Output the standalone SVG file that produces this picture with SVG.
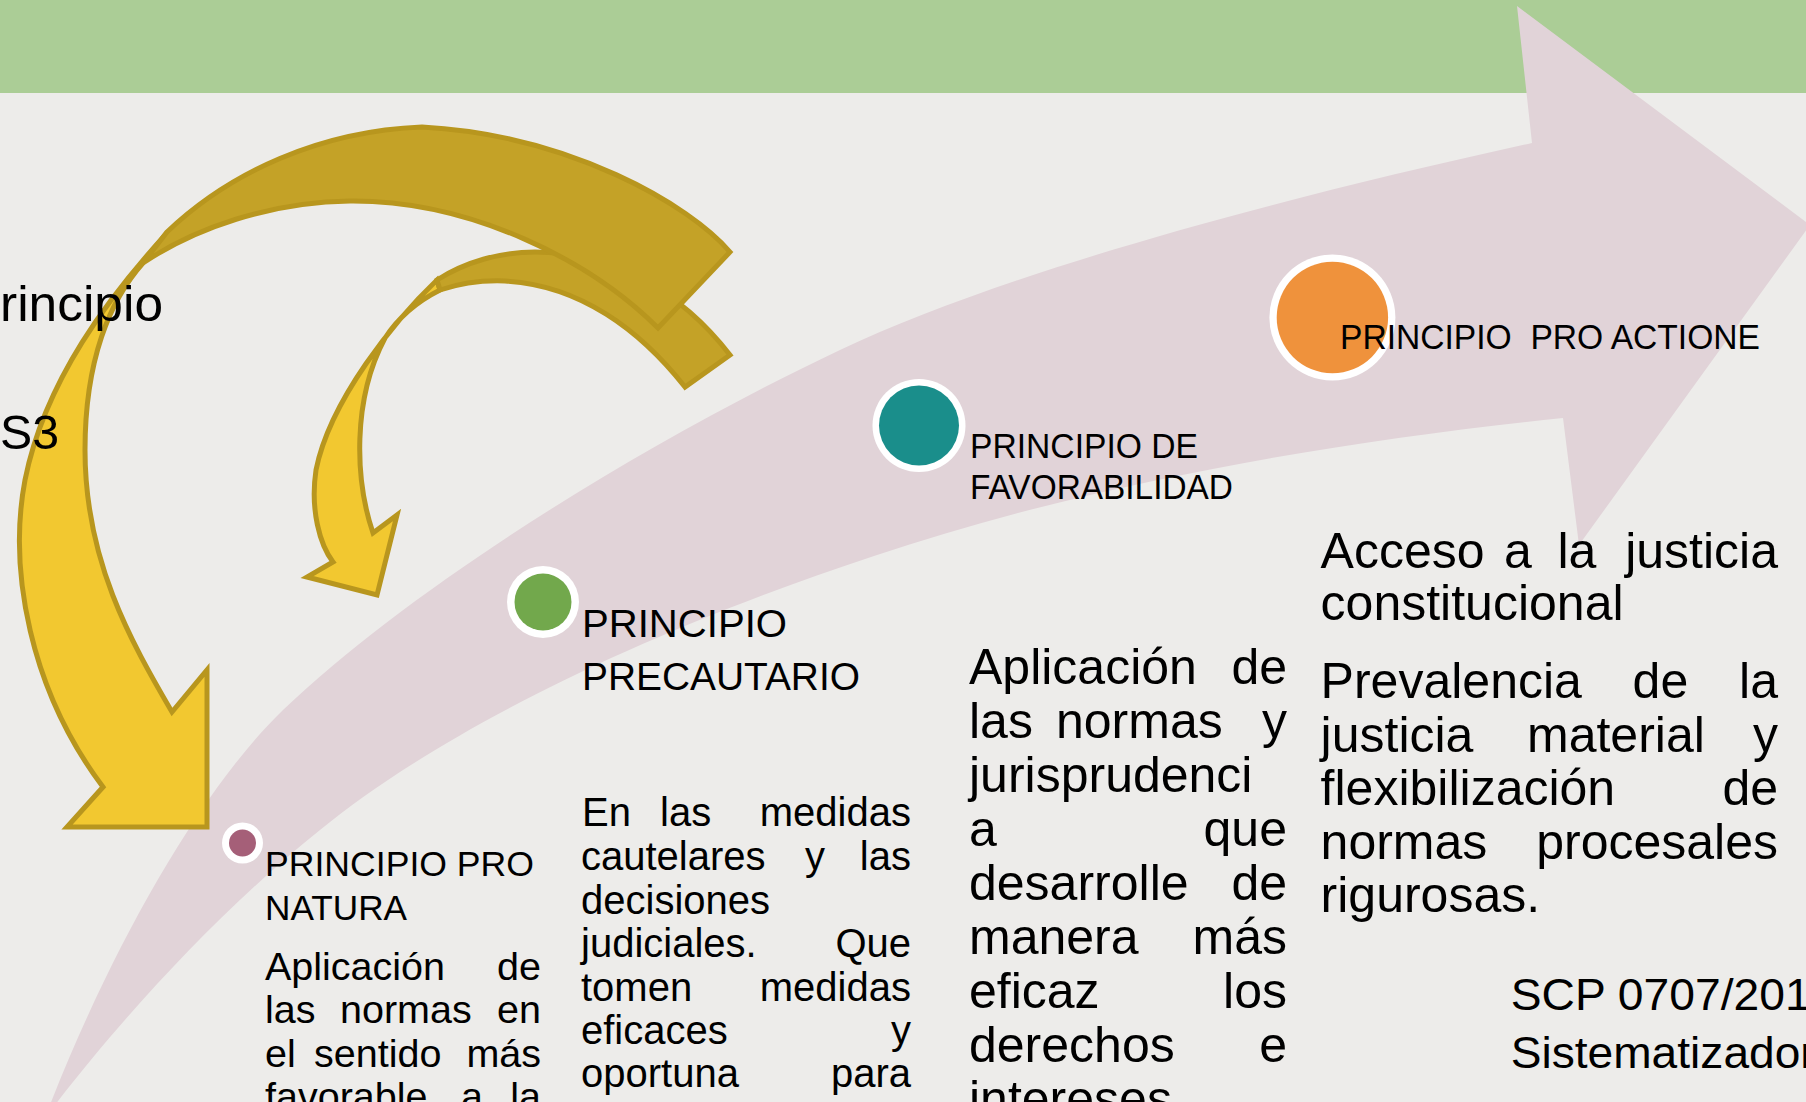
<svg xmlns="http://www.w3.org/2000/svg" width="1806" height="1102" viewBox="0 0 1806 1102">
<style>
.t{font-family:"Liberation Sans",Arial,sans-serif;fill:#000}
.h35{font-size:35px}
.h38{font-size:38.5px}
.b40{font-size:40px}
.b50{font-size:50px}
.e{text-anchor:end}
.yel{fill:#f2c830;stroke:#b8961e;stroke-width:5;stroke-linejoin:miter}
.dark{fill:#c4a227;stroke:#b8961e;stroke-width:5;stroke-linejoin:miter}
.ring{fill:#ffffff}
</style>
<rect x="0" y="0" width="1806" height="1102" fill="#edecea"/>
<rect x="0" y="0" width="1806" height="93" fill="#abcd96"/>

<g id="timeline-arrow">
<path fill="#e1d3d8" d="M1532,143 C1250,205 1000,275 840,350 C650,440 420,580 283,710 C200,790 110,950 48,1110 L55,1105 C120,1020 220,910 320,830 C430,740 620,640 874,556 C1100,480 1350,440 1563,418 L1579,545 L1810,225 L1517,6 Z"/>
</g>

<g id="connectors">
<g id="small-curved-arrow">
<path class="yel" d="M437,280 C395,320 330,400 316,470 C310,510 320,545 333,562 L307,577 L377,595 L397,515 L373,533 C355,480 352,400 385,338 C400,315 420,300 440,290 Z"/>
<path class="dark" d="M730,355 C680,290 610,252 535,252 C500,252 465,262 437,280 L440,290 C458,284 480,280 505,281 C580,285 640,330 685,387 Z"/>
</g>
<g id="big-curved-arrow">
<path class="yel" d="M168,232 C110,295 45,380 25,480 C8,570 30,690 103,787 L67,827 L207,827 L207,670 L172,712 C130,640 85,560 85,450 C85,360 110,300 143,263 Z"/>
<path class="dark" d="M730,252 C690,205 570,135 422,127 C320,131 230,172 167,232 L143,263 C195,228 270,202 350,201 C470,200 590,260 658,328 Z"/>
</g>
</g>

<g id="left-text">
<text class="t" x="0" y="321" font-size="50" textLength="163" lengthAdjust="spacingAndGlyphs">rincipio</text>
<text class="t" x="0" y="449" font-size="48" textLength="59" lengthAdjust="spacingAndGlyphs">S3</text>
</g>

<g id="node-pro-natura">
<circle class="ring" cx="242.5" cy="843" r="20.5"/>
<circle cx="242.5" cy="843" r="13.5" fill="#a55f78"/>
<text class="t h35" x="265" y="876" textLength="269" lengthAdjust="spacingAndGlyphs">PRINCIPIO PRO</text>
<text class="t h35" x="265" y="920" textLength="142" lengthAdjust="spacingAndGlyphs">NATURA</text>
<g class="t" font-size="39.5">
<text x="265" y="980">Aplicación</text><text class="e" x="541" y="980">de</text>
<text x="265" y="1023">las</text><text x="340" y="1023">normas</text><text class="e" x="541" y="1023">en</text>
<text x="265" y="1067">el</text><text x="314" y="1067">sentido</text><text class="e" x="541" y="1067">más</text>
<text x="265" y="1110">favorable</text><text x="461" y="1110">a</text><text class="e" x="541" y="1110">la</text>
</g>
</g>

<g id="node-precautario">
<circle class="ring" cx="543" cy="602" r="36"/>
<circle cx="543" cy="602" r="28.5" fill="#72a84c"/>
<text class="t h38" x="582" y="637" textLength="205" lengthAdjust="spacingAndGlyphs">PRINCIPIO</text>
<text class="t h38" x="582" y="689.6" textLength="278" lengthAdjust="spacingAndGlyphs">PRECAUTARIO</text>
<g class="t b40">
<text x="582" y="826">En</text><text x="660" y="826">las</text><text class="e" x="911" y="826">medidas</text>
<text x="581" y="870">cautelares</text><text x="805" y="870">y</text><text class="e" x="911" y="870">las</text>
<text x="581" y="913.5">decisiones</text>
<text x="581" y="956.5">judiciales.</text><text class="e" x="911" y="956.5">Que</text>
<text x="581" y="1000.5">tomen</text><text class="e" x="911" y="1000.5">medidas</text>
<text x="581" y="1043.5">eficaces</text><text class="e" x="911" y="1043.5">y</text>
<text x="581" y="1086.6">oportuna</text><text class="e" x="911" y="1086.6">para</text>
</g>
</g>

<g id="node-favorabilidad">
<circle class="ring" cx="919" cy="425.5" r="46.5"/>
<circle cx="919" cy="425.5" r="40" fill="#1a8e8b"/>
<text class="t h35" x="970" y="458" textLength="228" lengthAdjust="spacingAndGlyphs">PRINCIPIO DE</text>
<text class="t h35" x="970" y="498.7" textLength="263" lengthAdjust="spacingAndGlyphs">FAVORABILIDAD</text>
<g class="t b50">
<text x="969" y="683.6">Aplicación</text><text class="e" x="1287" y="683.6">de</text>
<text x="969" y="737.7">las</text><text x="1056" y="737.7">normas</text><text class="e" x="1287" y="737.7">y</text>
<text x="969" y="791.7">jurisprudenci</text>
<text x="969" y="845.8">a</text><text class="e" x="1287" y="845.8">que</text>
<text x="969" y="899.8">desarrolle</text><text class="e" x="1287" y="899.8">de</text>
<text x="969" y="953.9">manera</text><text class="e" x="1287" y="953.9">más</text>
<text x="969" y="1007.9">eficaz</text><text class="e" x="1287" y="1007.9">los</text>
<text x="969" y="1062">derechos</text><text class="e" x="1287" y="1062">e</text>
<text x="969" y="1116">intereses</text>
</g>
</g>

<g id="node-pro-actione">
<circle class="ring" cx="1332.4" cy="317.5" r="63"/>
<circle cx="1332.4" cy="317.5" r="55.7" fill="#ef923c"/>
<text class="t h35" x="1340" y="348.5" textLength="420" lengthAdjust="spacingAndGlyphs" style="white-space:pre">PRINCIPIO  PRO ACTIONE</text>
<g class="t b50">
<text x="1320.6" y="568">Acceso</text><text x="1504" y="568">a</text><text x="1557.5" y="568">la</text><text class="e" x="1778" y="568">justicia</text>
<text x="1320.6" y="620">constitucional</text>
<text x="1320.6" y="698">Prevalencia</text><text x="1632.6" y="698">de</text><text class="e" x="1778" y="698">la</text>
<text x="1320.6" y="751.5">justicia</text><text x="1527" y="751.5">material</text><text class="e" x="1778" y="751.5">y</text>
<text x="1320.6" y="805">flexibilización</text><text class="e" x="1778" y="805">de</text>
<text x="1320.6" y="858.5">normas</text><text class="e" x="1778" y="858.5">procesales</text>
<text x="1320.6" y="912">rigurosas.</text>
</g>
<text class="t" x="1510.7" y="1009.6" font-size="44" textLength="300" lengthAdjust="spacingAndGlyphs">SCP 0707/201</text>
<text class="t" x="1510.7" y="1067.5" font-size="44" textLength="305" lengthAdjust="spacingAndGlyphs">Sistematizador</text>
</g>
</svg>
